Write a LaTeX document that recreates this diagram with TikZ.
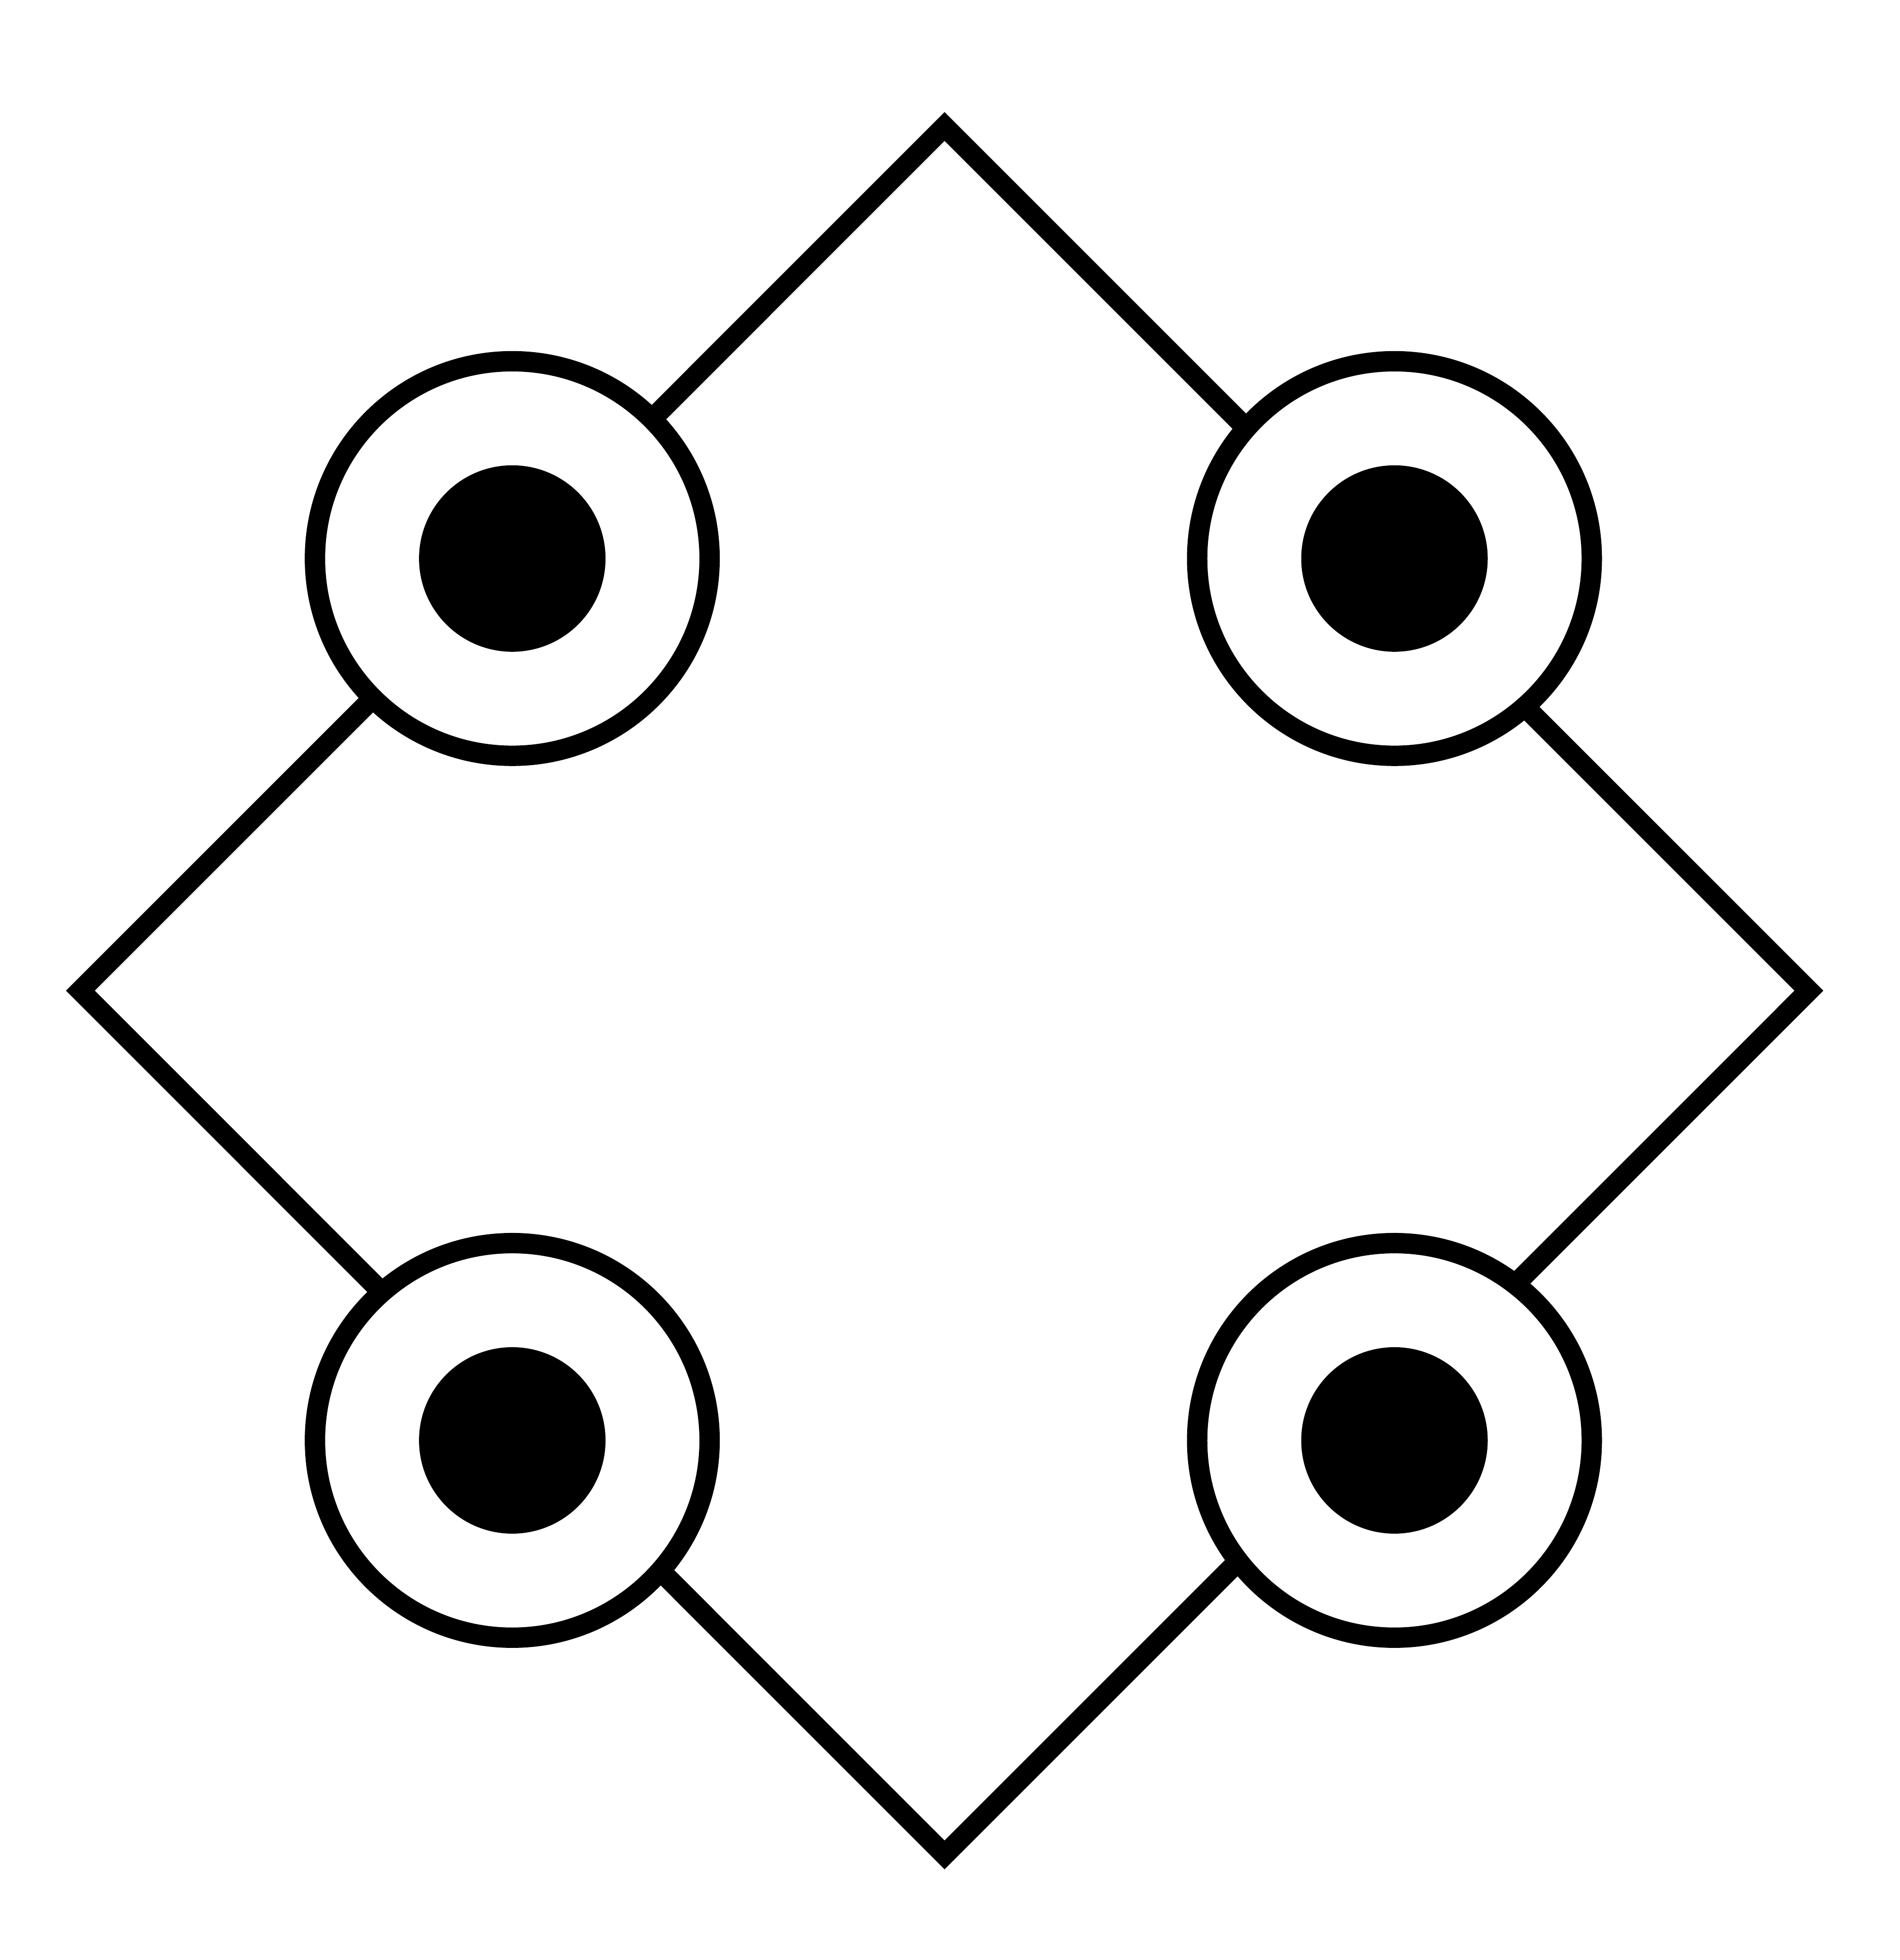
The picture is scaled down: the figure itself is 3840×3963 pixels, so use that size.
\documentclass[tikz,border=0pt]{standalone}
\begin{document}
\begin{tikzpicture}[x=0.1mm,y=-0.1mm,
  edge/.style={line width=4.12mm, line join=miter},
  ring/.style={circle, draw=black, fill=white, line width=4.12mm, inner sep=0pt, outer sep=0pt, minimum size=79.78mm},
  dot/.style={circle, fill=black, inner sep=0pt, outer sep=0pt, minimum size=37.7mm}]
\useasboundingbox[fill=white] (0,0) rectangle (3840,3963);
\coordinate (T) at (1909.5,255.8);
\coordinate (R) at (3656.8,2003);
\coordinate (B) at (1909.5,3750.5);
\coordinate (L) at (162.5,2003);
\draw[edge] (T) -- (R) -- (B) -- (L) -- cycle;
\node[ring] (ctl) at (1035.6,1129.3) {};
\node[ring] (ctr) at (2819,1129.3) {};
\node[ring] (cbl) at (1035.6,2912.4) {};
\node[ring] (cbr) at (2819,2912.4) {};
\node[dot] (dtl) at (ctl.center) {};
\node[dot] (dtr) at (ctr.center) {};
\node[dot] (dbl) at (cbl.center) {};
\node[dot] (dbr) at (cbr.center) {};
\end{tikzpicture}
\end{document}
